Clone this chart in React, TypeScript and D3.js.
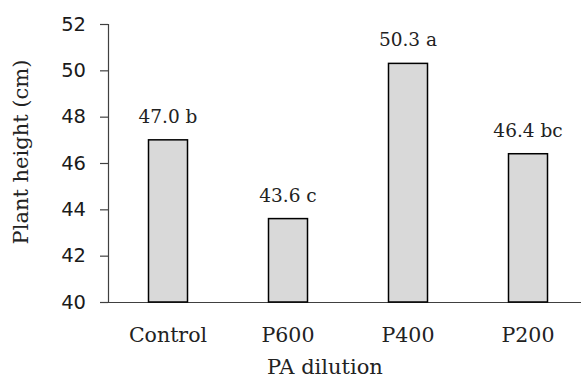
import * as React from 'react';
import { useRef, useEffect } from 'react';
import * as d3 from 'd3';

const categories = ['Control', 'P600', 'P400', 'P200'];
const heights = [47.0, 43.6, 50.3, 46.4];
const letters = ['b', 'c', 'a', 'bc'];
const yTicks = [40, 42, 44, 46, 48, 50, 52];

const W = 582;
const H = 380;

const App = () => {
  const svgRef = useRef<SVGSVGElement>(null);

  useEffect(() => {
    const svg = d3.select(svgRef.current);
    svg.selectAll('*').remove();

    const left = 108;
    const top = 24;
    const bottom = 302;

    const x = d3.scaleBand()
      .domain(categories)
      .range([left, left + 480])
      .paddingInner(0.675)
      .paddingOuter(0.3375);

    const y = d3.scaleLinear()
      .domain([40, 52])
      .range([bottom, top]);

    // y axis
    const yAxis = d3.axisLeft(y)
      .tickValues(yTicks)
      .tickSize(8)
      .tickPadding(14)
      .tickFormat(d3.format('d'));

    const gy = svg.append('g')
      .attr('transform', `translate(${left},0)`)
      .call(yAxis);
    gy.select('.domain').attr('stroke', '#404040').attr('stroke-width', 1.2);
    gy.selectAll('.tick line').attr('stroke', '#404040').attr('stroke-width', 1.2);
    gy.selectAll('.tick text')
      .attr('font-family', '"DejaVu Sans", sans-serif')
      .attr('font-size', 19.5)
      .attr('fill', '#1a1a1a');

    // baseline
    svg.append('line')
      .attr('x1', left)
      .attr('x2', 581)
      .attr('y1', bottom + 0.5)
      .attr('y2', bottom + 0.5)
      .attr('stroke', '#404040')
      .attr('stroke-width', 1.2);

    // bars
    svg.append('g')
      .selectAll('rect')
      .data(categories)
      .join('rect')
      .attr('x', d => x(d)!)
      .attr('width', x.bandwidth())
      .attr('y', (d, i) => y(heights[i]))
      .attr('height', (d, i) => y(40) - y(heights[i]))
      .attr('fill', '#d9d9d9')
      .attr('stroke', '#000')
      .attr('stroke-width', 1.5);

    // value labels
    svg.append('g')
      .selectAll('text')
      .data(categories)
      .join('text')
      .attr('x', d => x(d)! + x.bandwidth() / 2)
      .attr('y', (d, i) => y(heights[i]) - 17)
      .attr('text-anchor', 'middle')
      .attr('font-family', '"DejaVu Serif", serif')
      .attr('font-size', 18.5)
      .attr('fill', '#222')
      .text((d, i) => `${heights[i].toFixed(1)} ${letters[i]}`);

    // category labels
    svg.append('g')
      .selectAll('text')
      .data(categories)
      .join('text')
      .attr('x', d => x(d)! + x.bandwidth() / 2)
      .attr('y', 342)
      .attr('text-anchor', 'middle')
      .attr('font-family', '"DejaVu Serif", serif')
      .attr('font-size', 20.5)
      .attr('fill', '#222')
      .text(d => d);

    // axis titles
    svg.append('text')
      .attr('x', 325)
      .attr('y', 374)
      .attr('text-anchor', 'middle')
      .attr('font-family', '"DejaVu Serif", serif')
      .attr('font-size', 21)
      .attr('fill', '#222')
      .text('PA dilution');

    svg.append('text')
      .attr('transform', `translate(28,152) rotate(-90)`)
      .attr('text-anchor', 'middle')
      .attr('font-family', '"DejaVu Serif", serif')
      .attr('font-size', 21)
      .attr('fill', '#222')
      .text('Plant height (cm)');
  }, []);

  return (
    <svg
      ref={svgRef}
      width={W}
      height={H}
      style={{ position: 'absolute', left: 0, top: 0, background: '#fff' }}
    />
  );
};

export default App;
